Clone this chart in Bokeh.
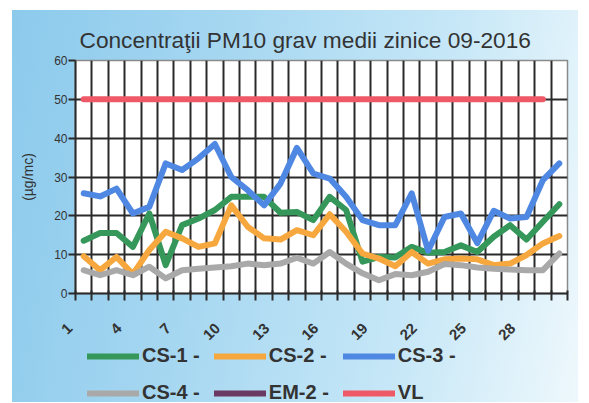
from bokeh.plotting import figure
from bokeh.models import Range1d, FixedTicker, Legend, LegendItem
from bokeh.layouts import column
from bokeh.embed import file_html
from bokeh.resources import INLINE

nan = float("nan")

# ---- data ----
days = list(range(1, 31))
cs1 = [13.6, 15.6, 15.6, 12.0, 20.6, 7.3, 17.6, 19.3, 21.5, 24.9, 24.9, 24.9, 20.8, 21.0,
       18.9, 24.9, 21.5, 8.2, 9.4, 9.3, 12.0, 10.5, 10.7, 12.4, 10.7, 14.6, 17.6, 13.9, 18.5, 23.0]
cs2 = [9.6, 6.0, 9.4, 5.0, 11.2, 15.9, 14.2, 12.0, 12.9, 22.7, 17.2, 14.2, 13.9, 16.3,
       15.0, 20.4, 15.9, 10.3, 9.0, 7.0, 10.7, 7.7, 8.8, 9.0, 8.8, 7.3, 7.7, 9.9, 12.9, 14.8]
cs3 = [25.8, 25.0, 27.0, 20.6, 22.3, 33.5, 31.8, 34.8, 38.5, 30.0, 26.6, 22.7, 28.3, 37.5,
       30.9, 29.6, 24.9, 18.9, 17.6, 17.6, 25.8, 11.0, 19.7, 20.6, 13.0, 21.3, 19.3, 19.7, 29.2, 33.5]
cs4 = [6.0, 4.7, 6.0, 4.7, 6.9, 3.9, 6.0, 6.4, 6.7, 7.0, 7.7, 7.3, 7.7, 9.2,
       7.7, 10.7, 7.7, 5.2, 3.4, 5.0, 4.7, 5.6, 7.6, 7.3, 6.7, 6.4, 6.2, 6.0, 6.0, 10.3]
# EM-2: no measurements in the month
em2 = [nan, nan, nan, nan, nan, nan, nan, nan, nan, nan, nan, nan, nan, nan, nan,
       nan, nan, nan, nan, nan, nan, nan, nan, nan, nan, nan, nan, nan, nan, nan]
vl_days = list(range(1, 30))
vl = [50, 50, 50, 50, 50, 50, 50, 50, 50, 50, 50, 50, 50, 50, 50,
      50, 50, 50, 50, 50, 50, 50, 50, 50, 50, 50, 50, 50, 50]
label_days = [1, 4, 7, 10, 13, 16, 19, 22, 25, 28]
y_ticks = [0, 10, 20, 30, 40, 50, 60]
names = ["CS-1 -", "CS-2 -", "CS-3 -", "CS-4 -", "EM-2 -", "VL"]
colors = ["#35985a", "#f6a83f", "#4f88e2", "#a9a9a9", "#6a3a62", "#ef5867"]

FONT = "Liberation Sans"
DARK = "#2a2a2a"
NB = "\u00a0\u00a0"

boundaries = [d - 0.5 for d in days] + [days[-1] + 0.5]

p = figure(width=566, height=343, output_backend="svg", toolbar_location=None,
           x_range=Range1d(boundaries[0], boundaries[-1]), y_range=Range1d(0, 60),
           min_border_left=63, min_border_right=11, min_border_top=50, min_border_bottom=60)
p.border_fill_alpha = 0
p.background_fill_color = "white"
p.outline_line_color = "#8a8a8a"
p.outline_line_width = 1.5

# title
p.title.text = "Concentraţii PM10 grav medii zinice 09-2016"
p.title.align = "left"
p.title.offset = 4
p.title.text_font = FONT
p.title.text_font_size = "22.7px"
p.title.text_font_style = "normal"
p.title.text_color = "#333333"
p.title.standoff = 15

# grids
p.xgrid.ticker = FixedTicker(ticks=boundaries)
p.ygrid.ticker = FixedTicker(ticks=y_ticks)
for g in (p.xgrid, p.ygrid):
    g.grid_line_color = DARK
    g.grid_line_width = 2
    g.level = "image"

# x axis: ticks at category boundaries, day labels every third day (left boundary)
xa = p.xaxis[0]
xa.ticker = FixedTicker(ticks=boundaries)
overrides = {b: "" for b in boundaries}
for d in label_days:
    overrides[d - 0.5] = str(d) + NB
xa.major_label_overrides = overrides
xa.major_label_orientation = 0.785398
xa.major_label_text_font = FONT
xa.major_label_text_font_size = "15px"
xa.major_label_text_font_style = "bold"
xa.major_label_text_color = "#333333"
xa.major_label_standoff = 19
xa.major_tick_in = 3
xa.major_tick_out = 7
xa.major_tick_line_width = 2
xa.major_tick_line_color = DARK
xa.axis_line_width = 2
xa.axis_line_color = DARK
xa.minor_tick_line_color = None

# y axis
ya = p.yaxis[0]
ya.ticker = FixedTicker(ticks=y_ticks)
ya.major_tick_in = 0
ya.major_tick_out = 7
ya.major_tick_line_width = 2
ya.major_tick_line_color = DARK
ya.axis_line_width = 2
ya.axis_line_color = DARK
ya.minor_tick_line_color = None
ya.major_label_text_font = FONT
ya.major_label_text_font_size = "12px"
ya.major_label_text_color = "#333333"
ya.major_label_standoff = 1
ya.axis_label = "(µg/mc)"
ya.axis_label_text_font = FONT
ya.axis_label_text_font_size = "14px"
ya.axis_label_text_font_style = "normal"
ya.axis_label_text_color = "#333333"
ya.axis_label_standoff = 15

# series
series = [(days, cs1), (days, cs2), (days, cs3), (days, cs4), (days, em2), (vl_days, vl)]
for (xs, ys), col in zip(series, colors):
    p.line(x=xs, y=ys, line_color=col, line_width=6, line_join="round", line_cap="round")

# legend strip (separate transparent figure below the chart; its own lines lie out of view)
q = figure(width=566, height=58, output_backend="svg", toolbar_location=None,
           x_axis_type=None, y_axis_type=None, min_border=0,
           x_range=Range1d(-2, -1), y_range=Range1d(-2, -1))
q.border_fill_alpha = 0
q.background_fill_alpha = 0
q.outline_line_color = None
q.styles = {"margin-top": "-9px"}
items = []
for (xs, ys), name, col in zip(series, names, colors):
    r = q.line(x=xs, y=ys, line_color=col, line_width=6, line_cap="round")
    items.append(LegendItem(label=name, renderers=[r]))

legend = Legend(items=items, orientation="horizontal", ncols=3, location=(12, -2))
legend.padding = 0
legend.margin = 0
legend.border_line_color = None
legend.background_fill_alpha = 0
legend.glyph_width = 52
legend.glyph_height = 20
legend.label_standoff = 3
legend.spacing = 14
legend.label_text_font = FONT
legend.label_text_font_size = "20px"
legend.label_text_font_style = "bold"
legend.label_text_color = "#333333"
q.add_layout(legend)

lay = column(p, q, spacing=0)
lay.styles = {"margin-left": "12px", "margin-top": "10px",
              "background": "linear-gradient(100deg, #8ccaec 0%, #a6d7f1 35%, #c6e7f7 70%, #eef8fc 100%)"}

open("out.html", "w").write(file_html(lay, INLINE))
